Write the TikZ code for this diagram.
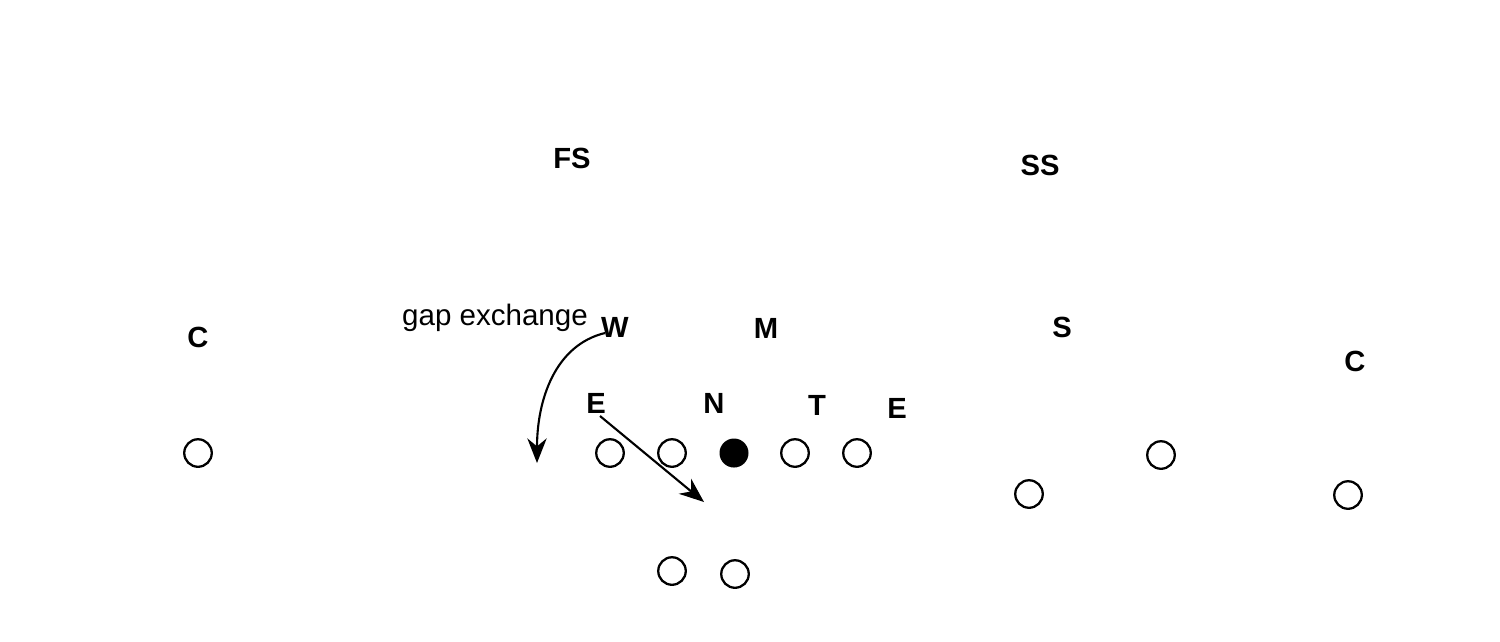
\documentclass[tikz,border=0pt]{standalone}
\usepackage{fontspec}
\setmainfont{Liberation Sans}
\usetikzlibrary{arrows.meta}
\begin{document}
\begin{tikzpicture}[x=0.01cm,y=-0.01cm,
  lbl/.style={font=\fontsize{8.3}{10}\selectfont\bfseries, inner sep=0pt},
  plain/.style={font=\fontsize{8.4}{10}\selectfont, inner sep=0pt},
  open/.style={circle, draw, line width=0.65pt, inner sep=0pt, minimum size=0.275cm},
  full/.style={circle, fill, inner sep=0pt, minimum size=0.29cm},
  arr/.style={line width=0.6pt, -{Stealth[length=7pt,width=5.5pt]}}]
\useasboundingbox (0,0) rectangle (1500,641);
\node[lbl] (fs) at (572,158) {FS};
\node[lbl] (ss) at (1040,165) {SS};
\node[lbl] (c1) at (198,337) {C};
\node[lbl] (w) at (615,327) {W};
\node[lbl] (m) at (766,328) {M};
\node[lbl] (s) at (1062,327) {S};
\node[lbl] (c2) at (1355,361) {C};
\node[lbl] (e1) at (596,403) {E};
\node[lbl] (n) at (714,403) {N};
\node[lbl] (t) at (817,405) {T};
\node[lbl] (e2) at (897,408) {E};
\node[plain] (gap) at (495,318) {gap exchange};
\node[open] (o1) at (198,453) {};
\node[open] (o2) at (610,453) {};
\node[open] (o3) at (672,453) {};
\node[full] (ball) at (734,453) {};
\node[open] (o4) at (795,453) {};
\node[open] (o5) at (857,453) {};
\node[open] (o6) at (1161,455) {};
\node[open] (o7) at (1029,494) {};
\node[open] (o8) at (1348,495) {};
\node[open] (o9) at (672,571) {};
\node[open] (o10) at (735,574) {};
\coordinate (ws) at (605,333);
\coordinate (we) at (537,463);
\coordinate (es) at (600,416);
\coordinate (ee) at (704,502);
\draw[arr] (ws) .. controls (555,345) and (537,400) .. (we);
\draw[arr] (es) -- (ee);
\end{tikzpicture}
\end{document}
